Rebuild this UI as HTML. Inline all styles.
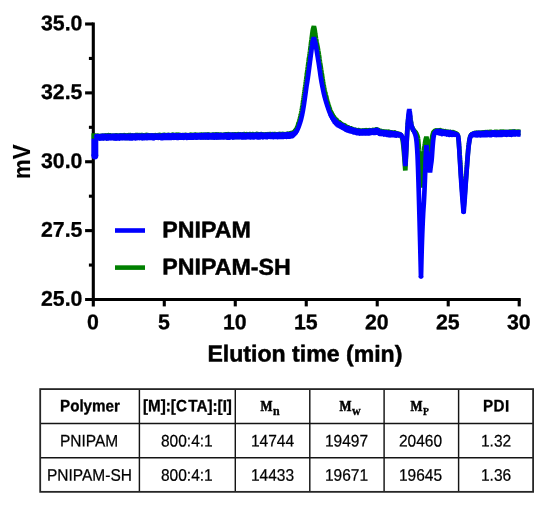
<!DOCTYPE html>
<html lang="en"><head><meta charset="utf-8"><title>GPC traces of PNIPAM and PNIPAM-SH</title>
<style>
html,body{margin:0;padding:0;background:#fff;}
svg,table{will-change:transform;}
body{width:550px;height:508px;position:relative;overflow:hidden;}
.t{position:absolute;left:40.20px;top:389.10px;width:492.90px;border-collapse:collapse;border-spacing:0;table-layout:fixed;
   font-family:'Liberation Sans', sans-serif;font-size:15.5px;color:#000;}
.t th,.t td{border:0;padding:0;text-align:center;vertical-align:middle;white-space:nowrap;
   line-height:1;overflow:visible;}
.t th{font-weight:bold;font-size:15.2px;-webkit-text-stroke:0.3px #000;}
.t th>span.h,.t td>span{display:inline-block;transform-origin:50% 55%;position:relative;}
.t th>span.h{transform:translateY(-1.0px) rotate(0.03deg) scaleY(1.08);}
.t tr.r2 td>span{transform:translateY(0.2px) rotate(0.03deg) scaleY(1.08);}
.t tr.r3 td>span{transform:translateY(0.35px) rotate(0.03deg) scaleY(1.08);}
.t td{font-weight:normal;-webkit-text-stroke:0.22px #000;}
.mm{font-family:'Liberation Serif', serif;font-weight:bold;display:inline-block;position:relative;top:1.0px;-webkit-text-stroke:0.35px #000;}
.mm .M{font-size:15.3px;display:inline-block;position:relative;top:-1.3px;transform:scaleX(0.83);transform-origin:right center;-webkit-text-stroke:0.6px #000;}
.mm .s{display:inline-block;position:relative;top:2.4px;transform:scaleX(0.92);transform-origin:left center;margin-left:0.7px;}
</style></head>
<body>
<svg width="550" height="380" viewBox="0 0 550 380" style="position:absolute;left:0;top:0;display:block">
<g stroke="#000" stroke-width="3.1" fill="none" stroke-linecap="butt">
<path d="M93.3,22.5 V306.4"/>
<path d="M85.1,299.5 H520.7"/>
<path d="M85.1,24.00 H93.3"/>
<path d="M85.1,92.88 H93.3"/>
<path d="M85.1,161.75 H93.3"/>
<path d="M85.1,230.62 H93.3"/>
<path d="M88.9,58.44 H93.3"/>
<path d="M88.9,127.31 H93.3"/>
<path d="M88.9,196.19 H93.3"/>
<path d="M88.9,265.06 H93.3"/>
<path d="M164.28,299.5 V306.4"/>
<path d="M235.27,299.5 V306.4"/>
<path d="M306.25,299.5 V306.4"/>
<path d="M377.23,299.5 V306.4"/>
<path d="M448.22,299.5 V306.4"/>
<path d="M519.20,299.5 V306.4"/>
</g>
<g font-family="'Liberation Sans', sans-serif" font-weight="bold" font-size="21.3px" fill="#000" stroke="#000" stroke-width="0.3" stroke-linejoin="round">
<text transform="translate(82.4,30.15) rotate(0.03)" text-anchor="end">35.0</text>
<text transform="translate(82.4,99.03) rotate(0.03)" text-anchor="end">32.5</text>
<text transform="translate(82.4,167.90) rotate(0.03)" text-anchor="end">30.0</text>
<text transform="translate(82.4,236.78) rotate(0.03)" text-anchor="end">27.5</text>
<text transform="translate(82.4,305.65) rotate(0.03)" text-anchor="end">25.0</text>
<text transform="translate(92.90,329.2) rotate(0.03)" text-anchor="middle">0</text>
<text transform="translate(163.88,329.2) rotate(0.03)" text-anchor="middle">5</text>
<text transform="translate(234.87,329.2) rotate(0.03)" text-anchor="middle">10</text>
<text transform="translate(305.85,329.2) rotate(0.03)" text-anchor="middle">15</text>
<text transform="translate(376.83,329.2) rotate(0.03)" text-anchor="middle">20</text>
<text transform="translate(447.82,329.2) rotate(0.03)" text-anchor="middle">25</text>
<text transform="translate(518.80,329.2) rotate(0.03)" text-anchor="middle">30</text>
</g>
<text transform="translate(304.9,361.6) rotate(0.03)" text-anchor="middle" font-family="'Liberation Sans', sans-serif" font-weight="bold" font-size="23.1px" fill="#000" stroke="#000" stroke-width="0.5" stroke-linejoin="round">Elution time (min)</text>
<text transform="translate(29.9,161.7) rotate(-90) scale(1,1.07)" text-anchor="middle" font-family="'Liberation Sans', sans-serif" font-weight="bold" font-size="22.2px" fill="#000" stroke="#000" stroke-width="0.1" stroke-linejoin="round">mV</text>
<path d="M94.60,136.79 L95.31,136.79 L96.02,136.78 L96.72,136.77 L97.43,136.77 L98.14,136.76 L98.85,136.76 L99.56,136.75 L100.27,136.74 L100.97,136.74 L101.68,136.73 L102.39,136.73 L103.10,136.72 L103.81,136.71 L104.52,136.71 L105.22,136.70 L105.93,136.70 L106.64,136.69 L107.35,136.68 L108.06,136.68 L108.76,136.67 L109.47,136.67 L110.18,136.66 L110.89,136.66 L111.60,136.65 L112.31,136.64 L113.01,136.64 L113.72,136.63 L114.43,136.63 L115.14,136.62 L115.85,136.61 L116.56,136.61 L117.26,136.60 L117.97,136.60 L118.68,136.59 L119.39,136.58 L120.10,136.58 L120.80,136.57 L121.51,136.57 L122.22,136.56 L122.93,136.55 L123.64,136.55 L124.35,136.54 L125.05,136.54 L125.76,136.53 L126.46,136.52 L127.16,136.52 L127.87,136.51 L128.57,136.51 L129.27,136.50 L129.97,136.49 L130.67,136.49 L131.37,136.48 L132.07,136.48 L132.77,136.47 L133.47,136.46 L134.17,136.46 L134.88,136.45 L135.58,136.45 L136.28,136.44 L136.98,136.43 L137.68,136.43 L138.38,136.42 L139.08,136.42 L139.78,136.41 L140.48,136.41 L141.18,136.40 L141.88,136.39 L142.59,136.39 L143.29,136.38 L143.99,136.38 L144.70,136.37 L145.41,136.36 L146.12,136.36 L146.84,136.35 L147.55,136.35 L148.26,136.34 L148.97,136.33 L149.69,136.33 L150.40,136.32 L151.11,136.32 L151.82,136.31 L152.54,136.30 L153.25,136.30 L153.96,136.29 L154.68,136.28 L155.39,136.28 L156.10,136.27 L156.81,136.27 L157.53,136.26 L158.24,136.25 L158.95,136.25 L159.66,136.24 L160.38,136.24 L161.10,136.23 L161.83,136.22 L162.55,136.22 L163.27,136.21 L163.99,136.21 L164.71,136.20 L165.43,136.19 L166.15,136.19 L166.87,136.18 L167.60,136.18 L168.32,136.17 L169.04,136.16 L169.76,136.16 L170.48,136.15 L171.20,136.14 L171.92,136.14 L172.64,136.13 L173.37,136.13 L174.09,136.12 L174.81,136.11 L175.53,136.11 L176.25,136.10 L176.95,136.10 L177.65,136.09 L178.35,136.08 L179.05,136.08 L179.75,136.07 L180.45,136.07 L181.15,136.06 L181.85,136.05 L182.55,136.05 L183.25,136.04 L183.95,136.04 L184.65,136.03 L185.35,136.02 L186.05,136.02 L186.75,136.01 L187.45,136.01 L188.15,136.00 L188.85,135.99 L189.55,135.99 L190.25,135.98 L190.95,135.98 L191.65,135.97 L192.35,135.97 L193.05,135.96 L193.75,135.95 L194.47,135.95 L195.20,135.94 L195.92,135.94 L196.65,135.93 L197.37,135.92 L198.09,135.92 L198.82,135.91 L199.54,135.90 L200.27,135.90 L200.99,135.89 L201.71,135.89 L202.44,135.88 L203.16,135.87 L203.89,135.87 L204.61,135.86 L205.33,135.86 L206.06,135.85 L206.78,135.84 L207.51,135.84 L208.23,135.83 L208.95,135.83 L209.68,135.82 L210.40,135.81 L211.12,135.81 L211.84,135.80 L212.56,135.80 L213.28,135.79 L214.00,135.78 L214.72,135.78 L215.44,135.77 L216.16,135.77 L216.88,135.76 L217.59,135.76 L218.31,135.75 L219.03,135.74 L219.75,135.74 L220.47,135.73 L221.19,135.73 L221.91,135.72 L222.62,135.71 L223.34,135.71 L224.06,135.70 L224.78,135.70 L225.50,135.69 L226.22,135.69 L226.94,135.68 L227.66,135.67 L228.38,135.67 L229.09,135.66 L229.80,135.66 L230.52,135.65 L231.23,135.65 L231.94,135.64 L232.66,135.63 L233.37,135.63 L234.08,135.62 L234.80,135.62 L235.51,135.61 L236.22,135.61 L236.94,135.60 L237.65,135.59 L238.36,135.59 L239.08,135.58 L239.79,135.58 L240.51,135.57 L241.22,135.57 L241.93,135.56 L242.65,135.55 L243.36,135.55 L244.07,135.54 L244.79,135.54 L245.50,135.53 L246.21,135.53 L246.92,135.52 L247.62,135.51 L248.33,135.51 L249.04,135.50 L249.75,135.50 L250.46,135.49 L251.17,135.49 L251.88,135.48 L252.58,135.48 L253.29,135.47 L254.00,135.46 L254.71,135.46 L255.42,135.45 L256.12,135.45 L256.83,135.44 L257.54,135.44 L258.25,135.43 L258.96,135.43 L259.67,135.42 L260.38,135.42 L261.08,135.41 L261.79,135.40 L262.50,135.40 L263.22,135.39 L263.94,135.38 L264.66,135.38 L265.38,135.37 L266.10,135.36 L266.82,135.35 L267.54,135.35 L268.26,135.34 L268.98,135.33 L269.69,135.32 L270.41,135.32 L271.13,135.31 L271.85,135.30 L272.57,135.29 L273.29,135.28 L274.01,135.28 L274.73,135.27 L275.45,135.26 L276.19,135.25 L276.93,135.24 L277.68,135.23 L278.42,135.21 L279.16,135.20 L279.90,135.19 L280.64,135.18 L281.38,135.17 L282.12,135.16 L282.87,135.14 L283.61,135.13 L284.35,135.12 L285.16,135.10 L285.97,135.07 L286.78,135.05 L287.58,135.02 L288.39,135.00 L289.20,134.97 L290.00,134.82 L290.74,134.62 L291.43,134.38 L292.06,134.07 L292.64,133.72 L293.21,133.29 L293.77,132.76 L294.33,132.15 L294.88,131.45 L295.41,130.68 L295.92,129.83 L296.41,128.90 L296.89,127.90 L297.15,127.25 L297.41,126.60 L297.70,125.80 L297.99,125.00 L298.30,124.05 L298.61,123.10 L298.84,122.37 L299.06,121.63 L299.29,120.90 L299.50,120.13 L299.71,119.37 L299.92,118.60 L300.11,117.80 L300.31,117.00 L300.51,116.20 L300.69,115.37 L300.87,114.53 L301.05,113.70 L301.22,112.83 L301.38,111.97 L301.55,111.10 L301.68,110.39 L301.80,109.68 L301.93,108.97 L302.05,108.26 L302.18,107.49 L302.30,106.73 L302.43,105.96 L302.55,105.19 L302.68,104.36 L302.80,103.53 L302.93,102.70 L303.05,101.88 L303.15,101.17 L303.25,100.45 L303.35,99.75 L303.45,99.03 L303.55,98.32 L303.67,97.50 L303.78,96.68 L303.90,95.86 L304.01,95.04 L304.12,94.28 L304.23,93.53 L304.33,92.77 L304.44,92.01 L304.57,91.09 L304.70,90.17 L304.82,89.25 L304.94,88.42 L305.06,87.58 L305.18,86.75 L305.29,85.92 L305.41,85.08 L305.52,84.25 L305.64,83.42 L305.75,82.58 L305.87,81.75 L305.98,80.92 L306.09,80.08 L306.21,79.25 L306.32,78.42 L306.43,77.58 L306.54,76.75 L306.66,75.90 L306.77,75.04 L306.89,74.19 L307.00,73.31 L307.12,72.44 L307.24,71.56 L307.36,70.67 L307.48,69.77 L307.59,68.88 L307.71,67.96 L307.84,67.04 L307.96,66.12 L308.08,65.22 L308.20,64.31 L308.32,63.41 L308.44,62.51 L308.57,61.61 L308.69,60.72 L308.81,59.83 L308.94,58.95 L309.06,58.06 L309.19,57.19 L309.31,56.31 L309.44,55.44 L309.54,54.72 L309.64,54.00 L309.74,53.28 L309.83,52.56 L309.94,51.78 L310.04,51.00 L310.15,50.22 L310.25,49.44 L310.36,48.59 L310.47,47.75 L310.58,46.91 L310.69,46.06 L310.79,45.34 L310.88,44.61 L310.97,43.89 L311.06,43.16 L311.16,42.44 L311.26,41.64 L311.36,40.84 L311.46,40.04 L311.57,39.25 L311.68,38.33 L311.80,37.41 L311.92,36.49 L312.02,35.72 L312.12,34.94 L312.23,34.17 L312.35,33.22 L312.48,32.28 L312.60,31.47 L312.73,30.67 L312.98,29.33 L313.31,28.07 L313.60,27.19 L313.90,26.30 L314.11,27.19 L314.32,28.07 L314.57,29.33 L314.79,30.67 L314.91,31.47 L315.02,32.28 L315.15,33.22 L315.27,34.17 L315.40,34.94 L315.52,35.72 L315.64,36.49 L315.80,37.41 L315.95,38.33 L316.11,39.25 L316.26,40.04 L316.41,40.84 L316.55,41.64 L316.70,42.44 L316.84,43.16 L316.98,43.89 L317.12,44.61 L317.26,45.34 L317.40,46.06 L317.53,46.77 L317.66,47.49 L317.79,48.20 L317.92,48.91 L318.05,49.62 L318.17,50.33 L318.28,51.02 L318.40,51.73 L318.52,52.42 L318.64,53.12 L318.78,53.98 L318.91,54.84 L319.05,55.70 L319.18,56.56 L319.30,57.41 L319.42,58.25 L319.55,59.09 L319.67,59.94 L319.79,60.73 L319.90,61.52 L320.02,62.30 L320.13,63.09 L320.25,63.83 L320.36,64.56 L320.47,65.30 L320.58,66.03 L320.72,66.94 L320.86,67.84 L321.00,68.75 L321.13,69.58 L321.27,70.42 L321.40,71.25 L321.53,72.06 L321.66,72.88 L321.79,73.69 L321.91,74.48 L322.04,75.27 L322.16,76.06 L322.28,76.83 L322.40,77.60 L322.52,78.38 L322.64,79.12 L322.76,79.88 L322.88,80.62 L323.00,81.39 L323.13,82.15 L323.26,82.91 L323.39,83.68 L323.53,84.45 L323.67,85.22 L323.82,86.00 L323.96,86.78 L324.11,87.56 L324.27,88.35 L324.43,89.15 L324.59,89.94 L324.76,90.74 L324.94,91.54 L325.11,92.34 L325.30,93.16 L325.50,93.97 L325.69,94.78 L325.90,95.60 L326.10,96.43 L326.31,97.25 L326.54,98.08 L326.76,98.92 L326.99,99.75 L327.23,100.59 L327.47,101.42 L327.71,102.26 L327.96,103.09 L328.21,103.93 L328.47,104.77 L328.74,105.61 L329.01,106.45 L329.27,107.29 L329.56,108.13 L329.84,108.97 L330.12,109.81 L330.43,110.60 L330.74,111.38 L331.05,112.16 L331.38,112.89 L331.72,113.61 L332.05,114.34 L332.41,115.00 L332.77,115.67 L333.12,116.34 L333.51,116.95 L333.89,117.55 L334.27,118.16 L334.86,118.97 L335.45,119.78 L336.05,120.48 L336.65,121.18 L337.26,121.77 L337.88,122.36 L338.50,122.85 L339.12,123.34 L339.79,123.81 L340.46,124.28 L341.18,124.74 L341.89,125.19 L342.64,125.63 L343.40,126.07 L344.20,126.50 L345.00,126.92 L345.77,127.31 L346.55,127.70 L347.30,128.05 L348.05,128.40 L348.77,128.71 L349.50,129.03 L350.20,129.30 L350.90,129.58 L351.62,129.82 L352.33,130.06 L353.06,130.28 L353.79,130.49 L354.54,130.67 L355.29,130.85 L356.05,131.00 L356.81,131.15 L357.58,131.26 L358.36,131.37 L359.14,131.44 L359.92,131.51 L360.71,131.53 L361.50,131.56 L362.30,131.55 L363.10,131.54 L363.90,131.52 L364.69,131.51 L365.49,131.49 L366.28,131.47 L367.07,131.45 L367.86,131.43 L368.65,131.40 L369.44,131.38 L370.14,131.34 L370.85,131.31 L372.10,131.24 L373.19,131.15 L374.11,131.05 L374.89,130.93 L375.53,130.79 L376.03,130.64 L376.38,130.46 L376.72,130.38 L377.07,130.39 L377.42,130.50 L377.78,130.70 L378.11,130.91 L378.44,131.14 L378.75,131.38 L379.05,131.62 L379.59,131.84 L380.36,132.03 L381.38,132.19 L382.62,132.31 L383.96,132.46 L384.68,132.55 L385.39,132.64 L386.14,132.74 L386.90,132.84 L387.70,132.95 L388.50,133.06 L389.30,133.17 L390.10,133.27 L390.90,133.36 L391.70,133.46 L392.50,133.54 L393.30,133.62 L394.10,133.70 L394.90,133.77 L396.29,133.92 L397.46,134.08 L398.61,134.26 L399.46,134.43 L400.30,134.60 L401.09,135.67 L401.51,136.43 L401.84,137.22 L402.15,138.19 L402.45,139.31 L402.60,140.14 L402.75,140.97 L402.85,141.70 L402.95,142.43 L403.05,143.16 L403.15,144.06 L403.25,144.97 L403.35,145.88 L403.43,146.69 L403.50,147.50 L403.57,148.31 L403.65,149.12 L403.73,149.99 L403.80,150.86 L403.88,151.73 L403.95,152.59 L404.01,153.33 L404.07,154.07 L404.13,154.81 L404.19,155.54 L404.25,156.28 L404.30,156.99 L404.36,157.69 L404.41,158.40 L404.46,159.10 L404.52,159.81 L404.57,160.51 L404.62,161.22 L404.68,161.93 L404.73,162.65 L404.78,163.36 L404.83,164.07 L404.88,164.79 L404.94,165.50 L404.99,166.22 L405.04,166.93 L405.09,167.64 L405.14,168.36 L405.20,169.07 L405.25,169.79 L405.30,170.50 L405.33,169.79 L405.37,169.07 L405.40,168.36 L405.44,167.64 L405.47,166.93 L405.51,166.22 L405.54,165.50 L405.58,164.79 L405.61,164.07 L405.65,163.36 L405.68,162.65 L405.72,161.93 L405.75,161.22 L405.79,160.46 L405.82,159.70 L405.86,158.94 L405.90,158.18 L405.93,157.42 L405.97,156.67 L406.01,155.91 L406.04,155.17 L406.08,154.43 L406.11,153.69 L406.15,152.95 L406.18,152.21 L406.22,151.47 L406.26,150.70 L406.29,149.94 L406.33,149.17 L406.36,148.41 L406.40,147.64 L406.44,146.88 L406.48,146.08 L406.51,145.29 L406.55,144.50 L406.59,143.71 L406.62,142.92 L406.66,142.12 L406.70,141.41 L406.74,140.69 L406.77,139.97 L406.81,139.25 L406.84,138.53 L406.88,137.81 L406.92,137.04 L406.97,136.26 L407.01,135.49 L407.05,134.71 L407.09,133.94 L407.15,133.08 L407.20,132.22 L407.25,131.36 L407.30,130.50 L407.35,129.75 L407.40,129.00 L407.45,128.25 L407.50,127.50 L407.57,126.60 L407.63,125.71 L407.70,124.81 L407.77,124.02 L407.83,123.23 L407.90,122.44 L408.00,121.41 L408.10,120.38 L408.20,119.50 L408.30,118.62 L408.40,117.91 L408.49,117.19 L408.68,116.06 L408.91,115.12 L409.30,114.00 L409.69,115.12 L409.91,115.88 L410.07,116.62 L410.22,117.50 L410.38,118.50 L410.55,119.62 L410.75,120.88 L410.98,122.25 L411.10,123.00 L411.23,123.75 L411.48,125.06 L411.74,126.19 L412.01,127.12 L412.29,127.88 L412.56,128.53 L412.82,129.09 L413.07,129.56 L413.32,129.94 L413.62,130.34 L413.97,130.78 L414.37,131.25 L414.83,131.75 L415.27,132.28 L415.71,132.84 L416.14,133.44 L416.56,134.06 L416.96,134.84 L417.32,135.78 L417.65,136.88 L417.95,138.12 L418.05,138.96 L418.16,139.79 L418.26,140.62 L418.33,141.38 L418.39,142.12 L418.46,142.88 L418.52,143.62 L418.59,144.38 L418.64,145.09 L418.68,145.80 L418.73,146.52 L418.78,147.23 L418.83,147.95 L418.88,148.66 L418.92,149.38 L418.97,150.16 L419.01,150.94 L419.06,151.72 L419.10,152.50 L419.14,153.28 L419.19,154.06 L419.23,154.84 L419.28,155.62 L419.32,156.39 L419.36,157.15 L419.40,157.91 L419.45,158.68 L419.49,159.44 L419.53,160.20 L419.58,160.96 L419.62,161.72 L419.66,162.47 L419.70,163.21 L419.75,163.96 L419.79,164.70 L419.83,165.44 L419.87,166.19 L419.91,166.93 L419.96,167.68 L420.00,168.40 L420.04,169.12 L420.08,169.84 L420.12,170.56 L420.16,171.28 L420.20,172.00 L420.25,172.72 L420.29,173.45 L420.33,174.17 L420.37,174.89 L420.41,175.59 L420.45,176.30 L420.49,177.01 L420.53,177.71 L420.57,178.42 L420.61,179.12 L420.65,179.83 L420.69,180.54 L420.73,181.24 L420.77,181.95 L420.82,182.66 L420.86,183.36 L420.90,184.07 L420.94,184.78 L420.98,185.48 L421.02,186.19 L421.06,186.89 L421.10,187.60 L421.14,186.89 L421.19,186.19 L421.23,185.48 L421.27,184.78 L421.32,184.07 L421.36,183.36 L421.41,182.66 L421.45,181.95 L421.49,181.24 L421.54,180.54 L421.58,179.83 L421.62,179.12 L421.67,178.42 L421.71,177.71 L421.76,177.01 L421.80,176.30 L421.84,175.59 L421.89,174.89 L421.94,174.16 L421.99,173.42 L422.04,172.69 L422.08,171.96 L422.13,171.23 L422.18,170.50 L422.23,169.76 L422.28,169.03 L422.33,168.30 L422.39,167.52 L422.45,166.73 L422.51,165.95 L422.57,165.17 L422.63,164.38 L422.69,163.60 L422.76,162.90 L422.82,162.19 L422.88,161.49 L422.94,160.78 L423.00,160.08 L423.06,159.38 L423.14,158.62 L423.21,157.88 L423.29,157.12 L423.36,156.38 L423.44,155.62 L423.53,154.78 L423.62,153.94 L423.71,153.09 L423.80,152.25 L423.89,151.50 L423.98,150.75 L424.06,150.00 L424.15,149.25 L424.26,148.38 L424.37,147.50 L424.49,146.62 L424.60,145.88 L424.70,145.12 L424.81,144.38 L424.97,143.40 L425.12,142.43 L425.27,141.60 L425.42,140.77 L425.59,139.97 L425.76,139.16 L425.96,138.38 L426.15,137.59 L426.35,136.80 L426.53,137.59 L426.71,138.38 L426.88,139.16 L427.17,140.52 L427.37,141.68 L427.56,142.88 L427.74,144.12 L427.83,144.91 L427.92,145.69 L428.01,146.62 L428.11,147.56 L428.17,148.29 L428.24,149.02 L428.30,149.75 L428.37,150.58 L428.43,151.42 L428.50,152.25 L428.57,153.08 L428.63,153.92 L428.70,154.75 L428.77,155.58 L428.83,156.42 L428.90,157.25 L428.96,158.03 L429.02,158.81 L429.09,159.59 L429.15,160.38 L429.21,161.08 L429.26,161.78 L429.32,162.48 L429.38,163.19 L429.43,163.89 L429.49,164.59 L429.54,165.30 L429.60,166.00 L429.68,165.16 L429.77,164.31 L429.85,163.47 L429.94,162.62 L430.00,161.88 L430.07,161.12 L430.14,160.38 L430.20,159.62 L430.25,158.88 L430.31,158.12 L430.37,157.25 L430.44,156.38 L430.50,155.50 L430.55,154.75 L430.60,154.00 L430.65,153.25 L430.70,152.50 L430.75,151.77 L430.81,151.03 L430.86,150.30 L430.91,149.56 L430.97,148.84 L431.02,148.12 L431.08,147.41 L431.14,146.69 L431.20,145.98 L431.26,145.28 L431.32,144.58 L431.38,143.88 L431.46,142.96 L431.54,142.04 L431.62,141.12 L431.72,140.33 L431.81,139.54 L431.90,138.75 L432.05,137.75 L432.20,136.75 L432.36,135.94 L432.53,135.12 L432.88,133.88 L433.27,132.87 L433.71,132.11 L434.19,131.59 L434.71,131.31 L435.39,131.15 L436.21,131.10 L437.19,131.16 L438.31,131.34 L439.47,131.51 L440.66,131.69 L441.88,131.86 L443.12,132.04 L444.38,132.21 L445.62,132.37 L446.88,132.53 L448.12,132.68 L449.38,132.82 L450.62,132.96 L451.88,133.09 L453.12,133.21 L454.19,133.34 L455.08,133.46 L455.92,133.62 L457.10,133.90 L457.77,135.08 L457.96,135.77 L458.14,136.45 L458.29,137.43 L458.43,138.40 L458.53,139.29 L458.62,140.18 L458.71,141.06 L458.78,141.91 L458.85,142.75 L458.92,143.59 L458.99,144.44 L459.04,145.17 L459.09,145.90 L459.15,146.62 L459.20,147.35 L459.25,148.08 L459.31,148.81 L459.36,149.58 L459.41,150.35 L459.46,151.12 L459.51,151.88 L459.57,152.65 L459.62,153.42 L459.67,154.19 L459.71,154.90 L459.76,155.60 L459.80,156.31 L459.85,157.02 L459.89,157.73 L459.94,158.44 L459.98,159.15 L460.03,159.85 L460.07,160.56 L460.12,161.30 L460.16,162.04 L460.21,162.78 L460.25,163.51 L460.30,164.25 L460.34,164.99 L460.39,165.72 L460.44,166.46 L460.48,167.20 L460.52,167.94 L460.57,168.67 L460.62,169.41 L460.67,170.14 L460.72,170.88 L460.77,171.61 L460.82,172.34 L460.87,173.08 L460.91,173.81 L460.96,174.55 L461.01,175.28 L461.06,176.01 L461.12,176.74 L461.17,177.47 L461.22,178.21 L461.27,178.94 L461.33,179.67 L461.38,180.40 L461.43,181.13 L461.48,181.86 L461.54,182.59 L461.59,183.29 L461.65,183.99 L461.70,184.69 L461.76,185.39 L461.81,186.09 L461.87,186.79 L461.92,187.49 L461.98,188.19 L462.03,188.89 L462.09,189.59 L462.14,190.29 L462.20,190.99 L462.25,191.69 L462.31,192.40 L462.37,193.11 L462.43,193.82 L462.48,194.52 L462.54,195.23 L462.60,195.94 L462.66,196.65 L462.72,197.36 L462.78,198.07 L462.84,198.78 L462.90,199.49 L462.95,200.20 L463.01,200.91 L463.07,201.62 L463.13,202.33 L463.19,203.04 L463.25,203.74 L463.31,204.45 L463.37,205.16 L463.42,205.87 L463.48,206.58 L463.54,207.29 L463.60,208.00 L463.66,207.29 L463.72,206.58 L463.78,205.87 L463.83,205.16 L463.89,204.45 L463.95,203.74 L464.01,203.04 L464.07,202.33 L464.13,201.62 L464.19,200.91 L464.25,200.20 L464.30,199.49 L464.36,198.78 L464.42,198.07 L464.48,197.36 L464.54,196.65 L464.60,195.94 L464.66,195.23 L464.72,194.52 L464.77,193.82 L464.83,193.11 L464.89,192.40 L464.95,191.69 L465.01,190.99 L465.06,190.29 L465.12,189.59 L465.17,188.89 L465.23,188.19 L465.29,187.49 L465.34,186.79 L465.40,186.09 L465.46,185.39 L465.51,184.69 L465.57,183.99 L465.62,183.29 L465.68,182.59 L465.74,181.86 L465.79,181.13 L465.85,180.40 L465.91,179.67 L465.96,178.94 L466.02,178.21 L466.07,177.47 L466.13,176.74 L466.19,176.01 L466.24,175.28 L466.30,174.55 L466.35,173.81 L466.41,173.08 L466.46,172.34 L466.52,171.61 L466.57,170.88 L466.62,170.14 L466.68,169.41 L466.73,168.67 L466.79,167.94 L466.84,167.20 L466.89,166.46 L466.94,165.72 L467.00,164.99 L467.05,164.25 L467.10,163.51 L467.15,162.78 L467.21,162.04 L467.26,161.30 L467.31,160.56 L467.37,159.79 L467.43,159.03 L467.49,158.26 L467.55,157.49 L467.61,156.72 L467.67,155.95 L467.73,155.19 L467.79,154.42 L467.85,153.72 L467.91,153.02 L467.97,152.31 L468.03,151.61 L468.09,150.91 L468.15,150.21 L468.21,149.51 L468.29,148.77 L468.36,148.03 L468.44,147.30 L468.51,146.56 L468.59,145.82 L468.70,145.01 L468.80,144.19 L468.91,143.38 L469.07,142.34 L469.22,141.31 L469.36,140.46 L469.51,139.62 L469.77,138.31 L470.02,137.39 L470.30,136.59 L470.60,135.93 L471.01,135.30 L471.80,134.40 L472.81,134.18 L473.82,133.95 L475.01,133.75 L476.04,133.65 L477.12,133.60 L478.28,133.60 L479.02,133.59 L479.76,133.58 L480.68,133.56 L481.59,133.54 L482.31,133.52 L483.03,133.51 L483.75,133.49 L484.58,133.46 L485.42,133.44 L486.25,133.41 L486.95,133.39 L487.66,133.37 L488.36,133.35 L489.06,133.33 L489.84,133.31 L490.62,133.29 L491.41,133.27 L492.19,133.24 L493.05,133.22 L493.91,133.20 L494.77,133.17 L495.62,133.15 L496.38,133.13 L497.12,133.11 L497.88,133.09 L498.62,133.07 L499.38,133.05 L500.12,133.03 L500.88,133.01 L501.62,132.99 L502.38,132.98 L503.12,132.96 L503.88,132.94 L504.62,132.92 L505.38,132.90 L506.12,132.89 L506.88,132.87 L507.66,132.85 L508.44,132.84 L509.22,132.82 L510.00,132.80 L510.78,132.79 L511.56,132.77 L512.27,132.75 L512.97,132.74 L513.67,132.73 L514.38,132.71 L515.08,132.70 L515.78,132.68 L516.48,132.67 L517.19,132.66 L517.89,132.64 L518.59,132.63 L519.30,132.61 L520.00,132.60" fill="none" stroke="#008000" stroke-width="4.70" stroke-linejoin="bevel" stroke-linecap="butt"/>
<path d="M94.60,136.79 L95.31,137.23 L96.02,135.61 L96.72,137.68 L97.43,135.60 L98.14,137.84 L98.85,135.86 L99.56,137.90 L100.27,135.86 L100.97,137.85 L101.68,135.83 L102.39,137.64 L103.10,135.61 L103.81,138.05 L104.52,135.78 L105.22,137.69 L105.93,135.47 L106.64,138.10 L107.35,135.49 L108.06,137.77 L108.76,135.25 L109.47,137.56 L110.18,135.30 L110.89,137.68 L111.60,135.70 L112.31,137.57 L113.01,135.60 L113.72,137.96 L114.43,135.66 L115.14,137.82 L115.85,135.38 L116.56,137.68 L117.26,135.42 L117.97,137.49 L118.68,135.69 L119.39,137.56 L120.10,135.32 L120.80,137.68 L121.51,135.52 L122.22,137.76 L122.93,135.43 L123.64,137.58 L124.35,135.22 L125.05,137.80 L125.76,135.53 L126.46,137.72 L127.16,135.35 L127.87,137.88 L128.57,135.22 L129.27,137.53 L129.97,135.07 L130.67,137.42 L131.37,135.38 L132.07,137.77 L132.77,135.52 L133.47,137.61 L134.17,135.57 L134.88,137.70 L135.58,135.14 L136.28,137.63 L136.98,135.07 L137.68,137.47 L138.38,135.16 L139.08,137.62 L139.78,135.22 L140.48,137.53 L141.18,135.05 L141.88,137.80 L142.59,135.25 L143.29,137.63 L143.99,135.48 L144.70,137.64 L145.41,135.13 L146.12,137.79 L146.84,135.02 L147.55,137.37 L148.26,135.25 L148.97,137.58 L149.69,135.45 L150.40,137.45 L151.11,135.36 L151.82,137.24 L152.54,135.41 L153.25,137.60 L153.96,135.35 L154.68,137.29 L155.39,135.19 L156.10,137.64 L156.81,135.36 L157.53,137.38 L158.24,135.08 L158.95,137.62 L159.66,134.91 L160.38,137.60 L161.10,135.21 L161.83,137.33 L162.55,135.15 L163.27,137.58 L163.99,134.79 L164.71,137.15 L165.43,135.23 L166.15,137.18 L166.87,135.18 L167.60,137.32 L168.32,134.97 L169.04,137.18 L169.76,135.29 L170.48,137.25 L171.20,135.07 L171.92,137.33 L172.64,134.72 L173.37,137.39 L174.09,134.96 L174.81,137.33 L175.53,134.86 L176.25,137.00 L176.95,134.72 L177.65,137.40 L178.35,134.72 L179.05,137.40 L179.75,134.98 L180.45,137.16 L181.15,135.14 L181.85,137.28 L182.55,135.15 L183.25,136.94 L183.95,135.05 L184.65,136.99 L185.35,134.97 L186.05,136.91 L186.75,135.15 L187.45,136.96 L188.15,135.08 L188.85,137.07 L189.55,135.11 L190.25,137.35 L190.95,134.76 L191.65,136.92 L192.35,134.96 L193.05,137.02 L193.75,134.88 L194.47,136.88 L195.20,134.59 L195.92,137.37 L196.65,134.80 L197.37,137.06 L198.09,135.01 L198.82,136.83 L199.54,134.85 L200.27,136.91 L200.99,134.55 L201.71,136.84 L202.44,135.01 L203.16,137.28 L203.89,134.70 L204.61,136.81 L205.33,134.68 L206.06,136.73 L206.78,134.68 L207.51,137.26 L208.23,134.47 L208.95,137.09 L209.68,134.81 L210.40,136.89 L211.12,134.85 L211.84,137.11 L212.56,134.63 L213.28,137.10 L214.00,134.73 L214.72,136.77 L215.44,134.44 L216.16,137.20 L216.88,134.41 L217.59,137.08 L218.31,134.42 L219.03,137.03 L219.75,134.75 L220.47,136.89 L221.19,134.66 L221.91,136.60 L222.62,134.84 L223.34,136.73 L224.06,134.69 L224.78,136.96 L225.50,134.28 L226.22,136.81 L226.94,134.28 L227.66,137.10 L228.38,134.26 L229.09,136.73 L229.80,134.67 L230.52,136.64 L231.23,134.67 L231.94,136.62 L232.66,134.41 L233.37,137.01 L234.08,134.28 L234.80,136.75 L235.51,134.37 L236.22,136.93 L236.94,134.69 L237.65,136.84 L238.36,134.20 L239.08,136.89 L239.79,134.28 L240.51,136.71 L241.22,134.60 L241.93,136.88 L242.65,134.50 L243.36,136.87 L244.07,134.12 L244.79,136.63 L245.50,134.44 L246.21,136.93 L246.92,134.24 L247.62,136.47 L248.33,134.57 L249.04,136.45 L249.75,134.12 L250.46,136.82 L251.17,134.54 L251.88,136.82 L252.58,134.05 L253.29,136.71 L254.00,134.40 L254.71,136.64 L255.42,134.52 L256.12,136.32 L256.83,134.02 L257.54,136.67 L258.25,134.27 L258.96,136.83 L259.67,134.31 L260.38,136.78 L261.08,134.07 L261.79,136.39 L262.50,134.39 L263.22,136.42 L263.94,134.38 L264.66,136.58 L265.38,134.36 L266.10,136.46 L266.82,134.42 L267.54,136.73 L268.26,134.27 L268.98,136.46 L269.69,134.12 L270.41,136.70 L271.13,134.20 L271.85,136.69 L272.57,134.14 L273.29,136.45 L274.01,134.11 L274.73,136.14 L275.45,134.15 L276.19,136.22 L276.93,134.37 L277.68,136.55 L278.42,134.25 L279.16,136.34 L279.90,133.91 L280.64,136.36 L281.38,134.12 L282.12,136.32 L282.87,133.96 L283.61,136.45 L284.35,134.20 L285.16,136.28 L285.97,134.07 L286.78,136.07 L287.58,133.72 L288.39,136.15 L289.20,133.79 L290.00,136.12 L290.74,133.24 L291.43,135.49 L292.06,133.02 L292.64,134.60 L293.21,132.55 L293.77,133.43 L294.33,131.68 L294.88,131.81 L295.41,130.45 L295.92,129.96 L296.41,128.90 M331.05,112.16 L331.38,112.79 L331.72,113.75 L332.05,114.10 L332.41,115.39 L332.77,115.21 L333.12,116.73 L333.51,116.49 L333.89,118.19 L334.27,117.58 L334.86,119.73 L335.45,118.98 L336.05,121.72 L336.65,119.86 L337.26,123.15 L337.88,121.41 L338.50,124.12 L339.12,122.10 L339.79,124.75 L340.46,122.91 L341.18,126.16 L341.89,124.20 L342.64,127.04 L343.40,124.98 L344.20,127.64 L345.00,125.49 L345.77,128.65 L346.55,126.74 L347.30,129.16 L348.05,127.24 L348.77,129.77 L349.50,128.05 L350.20,130.35 L350.90,128.30 L351.62,130.69 L352.33,128.88 L353.06,131.39 L353.79,129.61 L354.54,131.72 L355.29,129.63 L356.05,132.16 L356.81,130.25 L357.58,132.69 L358.36,130.05 L359.14,132.86 L359.92,130.58 L360.71,132.55 L361.50,130.68 L362.30,132.86 L363.10,130.52 L363.90,132.46 L364.69,130.40 L365.49,132.87 L366.28,130.14 L367.07,132.46 L367.86,130.48 L368.65,132.79 L369.44,130.18 L370.14,132.61 L370.85,130.40 L372.10,132.13 L373.19,129.89 L374.11,132.16 L374.89,130.03 L375.53,132.20 L376.03,129.41 L376.38,131.79 L376.72,129.47 L377.07,131.75 L377.42,129.60 L377.78,132.06 L378.11,129.79 L378.44,132.20 L378.75,130.19 L379.05,133.02 L379.59,130.83 L380.36,132.97 L381.38,131.02 L382.62,133.31 L383.96,131.54 L384.68,133.51 L385.39,131.75 L386.14,133.72 L386.90,131.80 L387.70,133.99 L388.50,131.76 L389.30,134.19 L390.10,132.12 L390.90,134.33 L391.70,132.39 L392.50,134.41 L393.30,132.62 L394.10,134.57 L394.90,132.49 L396.29,135.06 L397.46,133.37 L398.61,134.82 L399.46,133.97 L400.30,134.75 L401.09,135.67 M412.56,128.86 L412.82,128.75 L413.07,129.97 L413.32,129.61 L413.62,130.69 L413.97,130.40 L414.37,131.68 L414.83,131.43 L415.27,132.68 L415.71,132.46 L416.14,133.81 L416.56,133.73 M433.27,132.87 L433.71,132.03 L434.19,131.76 L434.71,131.05 L435.39,131.70 L436.21,130.51 L437.19,131.91 L438.31,130.43 L439.47,132.86 L440.66,130.32 L441.88,133.11 L443.12,131.01 L444.38,133.21 L445.62,131.34 L446.88,133.65 L448.12,131.72 L449.38,133.94 L450.62,131.94 L451.88,134.50 L453.12,132.08 L454.19,134.02 L455.08,133.06 L455.92,133.95 L457.10,133.90 M470.60,135.93 L471.01,135.23 L471.80,134.66 L472.81,133.67 L473.82,134.69 L475.01,132.89 L476.04,134.80 L477.12,132.73 L478.28,134.61 L479.02,132.68 L479.76,134.67 L480.68,132.68 L481.59,134.42 L482.31,132.49 L483.03,134.50 L483.75,132.29 L484.58,134.63 L485.42,132.14 L486.25,134.65 L486.95,132.12 L487.66,134.74 L488.36,132.27 L489.06,134.38 L489.84,131.88 L490.62,134.24 L491.41,131.99 L492.19,134.48 L493.05,132.33 L493.91,134.54 L494.77,131.80 L495.62,134.37 L496.38,131.85 L497.12,134.44 L497.88,132.15 L498.62,134.23 L499.38,131.90 L500.12,134.37 L500.88,131.69 L501.62,134.33 L502.38,131.78 L503.12,134.33 L503.88,131.68 L504.62,134.18 L505.38,131.91 L506.12,133.77 L506.88,131.93 L507.66,133.92 L508.44,131.91 L509.22,134.16 L510.00,131.62 L510.78,134.01 L511.56,131.55 L512.27,134.01 L512.97,131.60 L513.67,133.59 L514.38,131.39 L515.08,133.97 L515.78,131.71 L516.48,133.49 L517.19,131.96 L517.89,133.02 L518.59,132.27 L519.30,132.76 L520.00,132.60" fill="none" stroke="#008000" stroke-width="4.70" stroke-linejoin="round" stroke-linecap="butt"/>
<rect x="91.4" y="133.3" width="3.8" height="5.5" fill="#008000"/>
<rect x="517.2" y="129.4" width="3.3" height="6.2" fill="#008000"/>
<rect x="91.4" y="138.7" width="6.9" height="17.3" fill="#0000ff"/>
<rect x="517.2" y="129.9" width="3.3" height="6.9" fill="#0000ff"/>
<circle cx="94.85" cy="156" r="3.45" fill="#0000ff"/>
<path d="M95.00,137.29 L95.70,137.29 L96.41,137.28 L97.11,137.27 L97.81,137.27 L98.52,137.26 L99.22,137.26 L99.92,137.25 L100.62,137.24 L101.33,137.24 L102.03,137.23 L102.73,137.23 L103.44,137.22 L104.14,137.21 L104.84,137.21 L105.55,137.20 L106.25,137.20 L106.95,137.19 L107.66,137.18 L108.36,137.18 L109.06,137.17 L109.77,137.17 L110.47,137.16 L111.17,137.16 L111.88,137.15 L112.58,137.14 L113.28,137.14 L113.98,137.13 L114.69,137.13 L115.39,137.12 L116.09,137.11 L116.80,137.11 L117.50,137.10 L118.20,137.10 L118.91,137.09 L119.61,137.08 L120.31,137.08 L121.02,137.07 L121.72,137.07 L122.42,137.06 L123.12,137.05 L123.83,137.05 L124.53,137.04 L125.23,137.04 L125.94,137.03 L126.66,137.02 L127.39,137.02 L128.11,137.01 L128.84,137.00 L129.56,137.00 L130.29,136.99 L131.01,136.99 L131.74,136.98 L132.46,136.97 L133.19,136.97 L133.91,136.96 L134.64,136.96 L135.36,136.95 L136.09,136.94 L136.81,136.94 L137.54,136.93 L138.26,136.92 L138.99,136.92 L139.71,136.91 L140.44,136.91 L141.16,136.90 L141.89,136.89 L142.61,136.89 L143.34,136.88 L144.06,136.88 L144.77,136.87 L145.48,136.86 L146.19,136.86 L146.90,136.85 L147.61,136.85 L148.32,136.84 L149.03,136.83 L149.74,136.83 L150.45,136.82 L151.16,136.82 L151.88,136.81 L152.59,136.80 L153.30,136.80 L154.01,136.79 L154.72,136.78 L155.43,136.78 L156.14,136.77 L156.85,136.77 L157.56,136.76 L158.27,136.75 L158.98,136.75 L159.69,136.74 L160.41,136.74 L161.13,136.73 L161.85,136.72 L162.57,136.72 L163.29,136.71 L164.01,136.71 L164.73,136.70 L165.45,136.69 L166.17,136.69 L166.89,136.68 L167.61,136.68 L168.33,136.67 L169.05,136.66 L169.77,136.66 L170.49,136.65 L171.21,136.64 L171.93,136.64 L172.65,136.63 L173.37,136.63 L174.09,136.62 L174.81,136.61 L175.53,136.61 L176.25,136.60 L176.95,136.60 L177.65,136.59 L178.35,136.58 L179.05,136.58 L179.75,136.57 L180.45,136.57 L181.15,136.56 L181.85,136.55 L182.55,136.55 L183.25,136.54 L183.95,136.54 L184.65,136.53 L185.35,136.52 L186.05,136.52 L186.75,136.51 L187.45,136.51 L188.15,136.50 L188.85,136.49 L189.55,136.49 L190.25,136.48 L190.95,136.48 L191.65,136.47 L192.35,136.47 L193.05,136.46 L193.75,136.45 L194.48,136.45 L195.20,136.44 L195.93,136.44 L196.66,136.43 L197.38,136.42 L198.11,136.42 L198.83,136.41 L199.56,136.40 L200.29,136.40 L201.01,136.39 L201.74,136.39 L202.47,136.38 L203.19,136.37 L203.92,136.37 L204.64,136.36 L205.37,136.36 L206.10,136.35 L206.82,136.34 L207.55,136.34 L208.28,136.33 L209.00,136.33 L209.73,136.32 L210.45,136.31 L211.18,136.31 L211.90,136.30 L212.63,136.30 L213.35,136.29 L214.07,136.28 L214.80,136.28 L215.52,136.27 L216.25,136.27 L216.97,136.26 L217.69,136.26 L218.42,136.25 L219.14,136.24 L219.86,136.24 L220.59,136.23 L221.31,136.23 L222.03,136.22 L222.76,136.21 L223.48,136.21 L224.20,136.20 L224.93,136.20 L225.65,136.19 L226.37,136.19 L227.10,136.18 L227.82,136.17 L228.54,136.17 L229.26,136.16 L229.98,136.16 L230.71,136.15 L231.43,136.15 L232.15,136.14 L232.87,136.13 L233.59,136.13 L234.31,136.12 L235.03,136.12 L235.75,136.11 L236.47,136.11 L237.19,136.10 L237.91,136.09 L238.63,136.09 L239.35,136.08 L240.07,136.08 L240.79,136.07 L241.51,136.07 L242.23,136.06 L242.96,136.05 L243.68,136.05 L244.40,136.04 L245.12,136.04 L245.84,136.03 L246.56,136.03 L247.27,136.02 L247.99,136.01 L248.71,136.01 L249.43,136.00 L250.14,136.00 L250.86,135.99 L251.58,135.99 L252.30,135.98 L253.01,135.98 L253.73,135.97 L254.45,135.96 L255.17,135.96 L255.89,135.95 L256.60,135.95 L257.32,135.94 L258.04,135.94 L258.76,135.93 L259.47,135.93 L260.19,135.92 L260.91,135.92 L261.63,135.91 L262.34,135.90 L263.06,135.90 L263.79,135.89 L264.52,135.88 L265.25,135.88 L265.98,135.87 L266.71,135.86 L267.44,135.85 L268.16,135.85 L268.89,135.84 L269.62,135.83 L270.35,135.82 L271.08,135.82 L271.81,135.81 L272.54,135.80 L273.27,135.79 L273.99,135.78 L274.72,135.78 L275.45,135.77 L276.18,135.76 L276.93,135.75 L277.68,135.74 L278.43,135.73 L279.19,135.71 L279.94,135.70 L280.69,135.69 L281.44,135.68 L282.19,135.67 L282.94,135.66 L283.69,135.64 L284.44,135.63 L285.19,135.62 L285.89,135.60 L286.60,135.58 L287.30,135.56 L288.00,135.54 L288.70,135.52 L289.40,135.50 L290.10,135.47 L290.90,135.32 L291.64,135.13 L292.33,134.89 L292.96,134.61 L293.54,134.29 L294.11,133.88 L294.67,133.39 L295.22,132.83 L295.78,132.17 L296.31,131.45 L296.82,130.65 L297.31,129.78 L297.79,128.83 L298.31,127.59 L298.60,126.84 L298.89,126.08 L299.20,125.18 L299.51,124.29 L299.74,123.60 L299.96,122.90 L300.19,122.21 L300.40,121.49 L300.61,120.77 L300.82,120.05 L301.01,119.30 L301.21,118.55 L301.41,117.80 L301.59,117.02 L301.77,116.24 L301.95,115.46 L302.12,114.65 L302.28,113.85 L302.45,113.04 L302.62,112.15 L302.78,111.25 L302.95,110.36 L303.07,109.63 L303.20,108.90 L303.32,108.17 L303.45,107.44 L303.57,106.64 L303.70,105.85 L303.82,105.06 L303.95,104.26 L304.07,103.41 L304.20,102.55 L304.32,101.69 L304.45,100.84 L304.56,100.04 L304.68,99.25 L304.79,98.46 L304.91,97.66 L305.01,96.93 L305.11,96.20 L305.22,95.47 L305.32,94.74 L305.44,93.85 L305.56,92.95 L305.69,92.06 L305.80,91.25 L305.90,90.45 L306.01,89.64 L306.12,88.89 L306.23,88.13 L306.33,87.38 L306.44,86.69 L306.54,85.99 L306.64,85.29 L306.80,84.33 L306.95,83.38 L307.10,82.50 L307.25,81.62 L307.36,80.92 L307.47,80.21 L307.58,79.50 L307.70,78.67 L307.82,77.83 L307.94,77.00 L308.04,76.28 L308.14,75.56 L308.24,74.84 L308.34,74.12 L308.44,73.31 L308.55,72.50 L308.66,71.69 L308.76,70.88 L308.87,70.04 L308.98,69.20 L309.09,68.37 L309.20,67.53 L309.31,66.67 L309.42,65.81 L309.53,64.95 L309.64,64.09 L309.73,63.39 L309.82,62.68 L309.91,61.98 L310.00,61.27 L310.09,60.56 L310.19,59.84 L310.28,59.11 L310.37,58.39 L310.46,57.66 L310.56,56.94 L310.66,56.11 L310.77,55.28 L310.88,54.46 L310.98,53.63 L311.08,52.88 L311.18,52.13 L311.27,51.38 L311.37,50.63 L311.49,49.74 L311.60,48.85 L311.72,47.96 L311.82,47.17 L311.93,46.38 L312.03,45.59 L312.19,44.56 L312.34,43.53 L312.50,42.65 L312.66,41.77 L312.85,40.89 L313.05,40.02 L313.28,39.14 L313.52,38.27 L313.75,37.40 L314.04,38.27 L314.33,39.14 L314.62,40.02 L314.86,40.89 L315.11,41.77 L315.30,42.65 L315.49,43.53 L315.69,44.56 L315.88,45.59 L316.01,46.38 L316.14,47.17 L316.27,47.96 L316.41,48.85 L316.56,49.74 L316.71,50.63 L316.83,51.38 L316.95,52.13 L317.07,52.88 L317.19,53.63 L317.33,54.46 L317.46,55.28 L317.60,56.11 L317.73,56.94 L317.85,57.66 L317.97,58.39 L318.08,59.11 L318.20,59.84 L318.32,60.56 L318.43,61.27 L318.54,61.98 L318.65,62.68 L318.76,63.39 L318.87,64.09 L319.00,64.95 L319.13,65.81 L319.26,66.67 L319.39,67.53 L319.51,68.37 L319.63,69.20 L319.75,70.04 L319.88,70.88 L319.99,71.69 L320.10,72.50 L320.21,73.31 L320.33,74.12 L320.43,74.84 L320.53,75.56 L320.64,76.28 L320.74,77.00 L320.87,77.83 L321.00,78.67 L321.13,79.50 L321.25,80.21 L321.37,80.92 L321.49,81.62 L321.65,82.50 L321.81,83.38 L322.00,84.33 L322.18,85.29 L322.32,85.99 L322.46,86.69 L322.59,87.38 L322.75,88.13 L322.90,88.89 L323.05,89.64 L323.22,90.45 L323.38,91.25 L323.55,92.06 L323.73,92.87 L323.92,93.68 L324.10,94.48 L324.30,95.29 L324.50,96.09 L324.70,96.89 L324.92,97.70 L325.13,98.50 L325.35,99.30 L325.58,100.10 L325.82,100.90 L326.05,101.70 L326.30,102.50 L326.54,103.30 L326.79,104.11 L327.05,104.91 L327.30,105.71 L327.56,106.52 L327.83,107.32 L328.10,108.13 L328.38,108.94 L328.66,109.75 L328.94,110.55 L329.23,111.36 L329.53,112.11 L329.84,112.86 L330.15,113.61 L330.48,114.30 L330.82,115.00 L331.15,115.69 L331.51,116.32 L331.87,116.95 L332.23,117.59 L332.80,118.45 L333.38,119.31 L333.96,120.07 L334.54,120.83 L335.14,121.49 L335.73,122.14 L336.33,122.70 L336.94,123.25 L337.55,123.70 L338.16,124.15 L338.82,124.59 L339.48,125.03 L340.19,125.46 L340.89,125.89 L341.65,126.32 L342.40,126.74 L343.20,127.15 L344.00,127.56 L344.80,127.94 L345.59,128.32 L346.39,128.66 L347.18,129.01 L347.97,129.32 L348.76,129.62 L349.55,129.90 L350.34,130.18 L351.13,130.42 L351.92,130.67 L352.71,130.89 L353.51,131.11 L354.30,131.30 L355.10,131.49 L355.90,131.65 L356.70,131.81 L357.50,131.93 L358.30,132.05 L359.10,132.12 L359.90,132.20 L360.70,132.23 L361.50,132.26 L362.30,132.25 L363.10,132.24 L363.90,132.22 L364.69,132.21 L365.49,132.19 L366.28,132.17 L367.07,132.15 L367.86,132.12 L368.65,132.10 L369.44,132.07 L370.14,132.04 L370.85,132.01 L372.10,131.94 L373.19,131.85 L374.11,131.75 L374.89,131.64 L375.53,131.51 L376.03,131.38 L376.38,131.23 L376.72,131.16 L377.07,131.19 L377.42,131.30 L377.78,131.50 L378.11,131.71 L378.44,131.92 L378.75,132.14 L379.05,132.36 L379.59,132.57 L380.36,132.76 L381.38,132.92 L382.62,133.08 L383.96,133.23 L384.68,133.31 L385.39,133.39 L386.14,133.48 L386.90,133.56 L387.70,133.65 L388.50,133.74 L389.30,133.82 L390.10,133.90 L390.90,133.97 L391.70,134.05 L392.50,134.12 L393.30,134.19 L394.10,134.25 L394.90,134.31 L395.61,134.37 L396.33,134.43 L397.58,134.54 L398.88,134.67 L399.89,134.79 L400.90,134.90 L401.69,135.80 L402.11,136.48 L402.42,137.24 L402.71,138.19 L402.99,139.31 L403.12,140.08 L403.26,140.84 L403.39,141.81 L403.52,142.78 L403.60,143.56 L403.69,144.34 L403.77,145.12 L403.86,146.04 L403.94,146.96 L404.02,147.88 L404.09,148.61 L404.15,149.35 L404.21,150.08 L404.27,150.82 L404.33,151.60 L404.39,152.39 L404.45,153.17 L404.51,153.96 L404.55,154.66 L404.60,155.36 L404.65,156.06 L404.70,156.76 L404.75,157.47 L404.79,158.17 L404.84,158.89 L404.89,159.61 L404.93,160.33 L404.98,161.05 L405.02,161.77 L405.07,162.49 L405.12,163.22 L405.16,163.94 L405.21,164.66 L405.25,165.38 L405.30,166.10 L405.34,165.38 L405.38,164.66 L405.42,163.94 L405.46,163.22 L405.50,162.49 L405.55,161.77 L405.59,161.05 L405.63,160.33 L405.67,159.61 L405.71,158.89 L405.75,158.17 L405.79,157.40 L405.84,156.64 L405.88,155.88 L405.92,155.11 L405.96,154.35 L406.01,153.58 L406.05,152.80 L406.09,152.03 L406.13,151.25 L406.18,150.47 L406.22,149.69 L406.26,148.88 L406.31,148.07 L406.35,147.25 L406.39,146.44 L406.44,145.62 L406.48,144.92 L406.51,144.21 L406.55,143.50 L406.59,142.79 L406.62,142.08 L406.66,141.38 L406.71,140.59 L406.75,139.80 L406.79,139.01 L406.84,138.22 L406.88,137.44 L406.92,136.71 L406.97,135.99 L407.01,135.26 L407.05,134.54 L407.09,133.81 L407.15,132.98 L407.20,132.16 L407.25,131.33 L407.30,130.50 L407.35,129.75 L407.40,129.00 L407.45,128.25 L407.50,127.50 L407.55,126.80 L407.60,126.09 L407.65,125.39 L407.69,124.69 L407.76,123.81 L407.82,122.94 L407.88,122.06 L407.94,121.25 L408.00,120.44 L408.06,119.62 L408.12,118.88 L408.18,118.12 L408.24,117.38 L408.33,116.38 L408.42,115.38 L408.51,114.50 L408.61,113.62 L408.73,112.72 L408.85,111.81 L408.96,111.11 L409.07,110.41 L409.19,109.70 L409.30,109.00 L409.41,109.70 L409.52,110.41 L409.64,111.11 L409.75,111.81 L409.87,112.62 L409.98,113.42 L410.14,114.76 L410.29,116.14 L410.35,116.85 L410.41,117.56 L410.49,118.29 L410.57,119.03 L410.66,119.78 L410.76,120.53 L410.87,121.29 L410.98,122.06 L411.10,122.85 L411.23,123.64 L411.48,125.01 L411.74,126.17 L412.01,127.12 L412.29,127.88 L412.56,128.55 L412.82,129.15 L413.07,129.68 L413.32,130.12 L413.59,130.63 L413.88,131.19 L414.19,131.81 L414.51,132.49 L414.83,133.27 L415.14,134.18 L415.45,135.19 L415.75,136.31 L416.02,137.66 L416.15,138.44 L416.27,139.22 L416.39,140.11 L416.50,141.00 L416.60,142.00 L416.70,143.00 L416.77,143.79 L416.83,144.58 L416.90,145.38 L416.97,146.29 L417.03,147.21 L417.10,148.12 L417.15,148.91 L417.20,149.69 L417.25,150.47 L417.30,151.25 L417.34,151.95 L417.38,152.65 L417.42,153.35 L417.46,154.05 L417.50,154.75 L417.53,155.48 L417.56,156.20 L417.60,156.93 L417.63,157.66 L417.66,158.38 L417.69,159.11 L417.73,159.84 L417.75,160.58 L417.78,161.32 L417.81,162.06 L417.84,162.80 L417.86,163.55 L417.89,164.29 L417.92,165.03 L417.95,165.77 L417.98,166.51 L418.00,167.26 L418.03,168.01 L418.05,168.77 L418.08,169.52 L418.10,170.27 L418.13,171.02 L418.15,171.77 L418.18,172.52 L418.20,173.27 L418.23,174.02 L418.25,174.77 L418.27,175.48 L418.29,176.18 L418.31,176.89 L418.34,177.59 L418.36,178.29 L418.38,179.00 L418.40,179.70 L418.42,180.40 L418.44,181.11 L418.46,181.81 L418.49,182.51 L418.51,183.22 L418.53,183.92 L418.55,184.63 L418.57,185.36 L418.59,186.09 L418.61,186.82 L418.64,187.55 L418.66,188.28 L418.68,189.01 L418.70,189.74 L418.72,190.48 L418.74,191.21 L418.76,191.94 L418.79,192.67 L418.81,193.40 L418.83,194.13 L418.85,194.86 L418.87,195.57 L418.89,196.28 L418.91,196.99 L418.93,197.70 L418.95,198.40 L418.97,199.11 L418.99,199.82 L419.01,200.53 L419.03,201.24 L419.05,201.95 L419.07,202.65 L419.09,203.36 L419.11,204.07 L419.13,204.78 L419.15,205.49 L419.17,206.22 L419.19,206.96 L419.21,207.69 L419.23,208.42 L419.25,209.16 L419.27,209.89 L419.29,210.63 L419.31,211.36 L419.33,212.10 L419.35,212.83 L419.37,213.56 L419.39,214.30 L419.41,215.03 L419.43,215.77 L419.45,216.50 L419.47,217.21 L419.49,217.93 L419.51,218.64 L419.53,219.35 L419.54,220.06 L419.56,220.78 L419.58,221.49 L419.60,222.20 L419.62,222.91 L419.64,223.62 L419.66,224.34 L419.67,225.05 L419.69,225.76 L419.71,226.47 L419.73,227.19 L419.75,227.90 L419.77,228.61 L419.79,229.31 L419.80,230.02 L419.82,230.72 L419.84,231.43 L419.86,232.13 L419.88,232.84 L419.90,233.55 L419.91,234.25 L419.93,234.96 L419.95,235.66 L419.97,236.37 L419.99,237.08 L420.01,237.78 L420.02,238.49 L420.04,239.24 L420.06,239.99 L420.08,240.74 L420.10,241.50 L420.12,242.25 L420.14,243.00 L420.16,243.75 L420.18,244.50 L420.20,245.25 L420.22,246.01 L420.24,246.76 L420.26,247.51 L420.27,248.26 L420.29,249.00 L420.31,249.73 L420.33,250.46 L420.35,251.20 L420.37,251.93 L420.38,252.66 L420.40,253.40 L420.42,254.13 L420.44,254.86 L420.46,255.60 L420.48,256.33 L420.49,257.06 L420.51,257.80 L420.53,258.53 L420.55,259.26 L420.57,259.97 L420.58,260.67 L420.60,261.38 L420.62,262.08 L420.64,262.79 L420.65,263.49 L420.67,264.20 L420.69,264.90 L420.71,265.61 L420.72,266.32 L420.74,267.02 L420.76,267.73 L420.77,268.43 L420.79,269.14 L420.81,269.84 L420.83,270.55 L420.84,271.25 L420.86,271.96 L420.88,272.66 L420.90,273.37 L420.91,274.07 L420.93,274.78 L420.95,275.48 L420.97,276.19 L420.98,276.89 L421.00,277.60 L421.02,276.89 L421.03,276.19 L421.05,275.48 L421.07,274.78 L421.09,274.07 L421.10,273.37 L421.12,272.66 L421.14,271.96 L421.16,271.25 L421.17,270.55 L421.19,269.84 L421.21,269.14 L421.23,268.43 L421.24,267.73 L421.26,267.02 L421.28,266.32 L421.29,265.61 L421.31,264.90 L421.33,264.20 L421.35,263.49 L421.36,262.79 L421.38,262.08 L421.40,261.38 L421.42,260.67 L421.43,259.97 L421.45,259.26 L421.47,258.55 L421.49,257.83 L421.51,257.11 L421.53,256.40 L421.55,255.68 L421.57,254.97 L421.59,254.25 L421.61,253.53 L421.63,252.82 L421.65,252.10 L421.67,251.39 L421.69,250.67 L421.71,249.95 L421.73,249.24 L421.75,248.53 L421.77,247.81 L421.79,247.10 L421.82,246.39 L421.84,245.68 L421.86,244.97 L421.88,244.26 L421.91,243.55 L421.93,242.84 L421.95,242.12 L421.98,241.41 L422.00,240.65 L422.03,239.88 L422.06,239.11 L422.09,238.35 L422.11,237.58 L422.14,236.81 L422.17,236.05 L422.20,235.28 L422.22,234.52 L422.25,233.75 L422.28,233.00 L422.31,232.25 L422.34,231.50 L422.37,230.75 L422.40,230.00 L422.43,229.25 L422.46,228.50 L422.49,227.75 L422.52,227.00 L422.55,226.25 L422.58,225.52 L422.62,224.78 L422.65,224.05 L422.68,223.32 L422.71,222.58 L422.75,221.85 L422.78,221.12 L422.81,220.38 L422.84,219.65 L422.88,218.94 L422.92,218.22 L422.95,217.51 L422.99,216.80 L423.02,216.09 L423.06,215.38 L423.10,214.66 L423.13,213.95 L423.18,213.15 L423.22,212.35 L423.27,211.55 L423.32,210.75 L423.37,209.95 L423.41,209.15 L423.47,208.37 L423.52,207.59 L423.58,206.81 L423.63,206.03 L423.69,205.25 L423.73,204.52 L423.78,203.78 L423.82,203.05 L423.87,202.31 L423.91,201.58 L423.96,200.84 L423.99,200.14 L424.03,199.44 L424.07,198.74 L424.11,198.04 L424.14,197.33 L424.18,196.63 L424.22,195.93 L424.26,195.16 L424.29,194.38 L424.33,193.61 L424.37,192.83 L424.40,192.06 L424.44,191.29 L424.48,190.51 L424.51,189.77 L424.54,189.03 L424.57,188.29 L424.60,187.55 L424.63,186.81 L424.66,186.07 L424.69,185.33 L424.73,184.59 L424.75,183.89 L424.78,183.18 L424.81,182.48 L424.84,181.78 L424.87,181.08 L424.89,180.38 L424.92,179.68 L424.95,178.97 L424.98,178.22 L425.01,177.46 L425.04,176.70 L425.06,175.95 L425.09,175.19 L425.12,174.43 L425.15,173.67 L425.18,172.96 L425.20,172.25 L425.23,171.54 L425.25,170.82 L425.28,170.11 L425.30,169.40 L425.33,168.69 L425.35,167.91 L425.38,167.13 L425.40,166.35 L425.43,165.57 L425.45,164.79 L425.47,164.01 L425.50,163.30 L425.53,162.60 L425.55,161.89 L425.58,161.18 L425.61,160.47 L425.63,159.76 L425.66,159.00 L425.70,158.23 L425.73,157.47 L425.76,156.70 L425.79,155.94 L425.84,155.11 L425.88,154.28 L425.92,153.45 L425.96,152.62 L426.01,151.79 L426.05,151.05 L426.09,150.31 L426.14,149.56 L426.18,148.82 L426.23,148.08 L426.27,147.33 L426.31,146.59 L426.36,145.84 L426.40,145.10 L426.50,145.88 L426.60,146.65 L426.70,147.43 L426.81,148.21 L426.91,148.98 L427.00,149.74 L427.09,150.51 L427.19,151.27 L427.30,152.26 L427.41,153.26 L427.49,153.96 L427.56,154.67 L427.64,155.38 L427.71,156.12 L427.79,156.88 L427.86,157.62 L427.96,158.43 L428.05,159.22 L428.14,160.03 L428.26,160.88 L428.37,161.72 L428.48,162.57 L428.61,163.43 L428.73,164.28 L428.86,165.13 L428.99,165.99 L429.10,166.70 L429.21,167.41 L429.32,168.12 L429.44,168.84 L429.55,169.55 L429.66,170.26 L429.77,170.97 L429.89,171.69 L430.00,172.40 L430.09,171.68 L430.18,170.96 L430.27,170.24 L430.36,169.52 L430.45,168.80 L430.58,167.81 L430.71,166.82 L430.81,166.05 L430.92,165.28 L431.03,164.51 L431.14,163.75 L431.25,163.00 L431.36,162.25 L431.48,161.22 L431.59,160.19 L431.67,159.31 L431.75,158.44 L431.83,157.56 L431.89,156.77 L431.95,155.97 L432.01,155.17 L432.07,154.38 L432.12,153.62 L432.18,152.88 L432.22,152.12 L432.27,151.38 L432.32,150.62 L432.38,149.80 L432.44,148.97 L432.50,148.14 L432.56,147.31 L432.62,146.59 L432.67,145.88 L432.73,145.16 L432.79,144.44 L432.86,143.62 L432.93,142.81 L433.00,142.00 L433.10,141.00 L433.20,140.00 L433.31,139.12 L433.41,138.25 L433.52,137.50 L433.64,136.75 L433.88,135.50 L434.12,134.50 L434.43,133.66 L434.77,132.99 L435.17,132.48 L435.63,132.12 L436.19,131.91 L436.88,131.82 L437.69,131.86 L438.61,132.04 L439.62,132.21 L440.71,132.39 L441.88,132.56 L443.12,132.74 L444.38,132.91 L445.62,133.07 L446.88,133.23 L448.12,133.38 L449.38,133.52 L450.62,133.66 L451.88,133.79 L453.12,133.91 L454.21,134.04 L455.12,134.16 L456.01,134.32 L457.30,134.60 L457.92,135.67 L458.25,136.96 L458.37,137.89 L458.50,138.82 L458.58,139.67 L458.66,140.52 L458.74,141.38 L458.79,142.19 L458.85,143.00 L458.91,143.81 L458.96,144.62 L459.01,145.34 L459.05,146.05 L459.10,146.77 L459.15,147.48 L459.19,148.19 L459.24,148.91 L459.28,149.67 L459.33,150.42 L459.38,151.18 L459.42,151.94 L459.47,152.70 L459.52,153.46 L459.56,154.22 L459.60,154.92 L459.65,155.63 L459.69,156.33 L459.73,157.04 L459.77,157.74 L459.81,158.45 L459.85,159.15 L459.90,159.86 L459.94,160.56 L459.98,161.30 L460.02,162.04 L460.07,162.78 L460.11,163.51 L460.15,164.25 L460.19,164.99 L460.24,165.72 L460.28,166.46 L460.32,167.20 L460.36,167.94 L460.41,168.70 L460.45,169.46 L460.50,170.22 L460.55,170.98 L460.59,171.74 L460.64,172.50 L460.68,173.26 L460.73,174.02 L460.77,174.78 L460.82,175.48 L460.86,176.18 L460.91,176.89 L460.95,177.59 L461.00,178.29 L461.04,178.99 L461.09,179.69 L461.13,180.39 L461.18,181.09 L461.22,181.82 L461.27,182.54 L461.32,183.26 L461.37,183.98 L461.42,184.71 L461.47,185.43 L461.51,186.15 L461.56,186.88 L461.62,187.62 L461.67,188.38 L461.72,189.12 L461.78,189.88 L461.83,190.62 L461.88,191.38 L461.94,192.12 L462.00,192.92 L462.05,193.71 L462.11,194.50 L462.17,195.29 L462.23,196.08 L462.29,196.88 L462.34,197.58 L462.40,198.29 L462.45,199.00 L462.50,199.71 L462.56,200.42 L462.61,201.12 L462.67,201.89 L462.74,202.65 L462.80,203.41 L462.86,204.17 L462.92,204.93 L462.98,205.69 L463.04,206.42 L463.10,207.15 L463.17,207.88 L463.23,208.61 L463.29,209.34 L463.35,210.07 L463.41,210.81 L463.48,211.54 L463.54,212.27 L463.60,213.00 L463.66,212.27 L463.72,211.54 L463.79,210.81 L463.85,210.07 L463.91,209.34 L463.97,208.61 L464.03,207.88 L464.10,207.15 L464.16,206.42 L464.22,205.69 L464.28,204.93 L464.34,204.17 L464.40,203.41 L464.46,202.65 L464.52,201.89 L464.57,201.12 L464.62,200.42 L464.67,199.71 L464.72,199.00 L464.77,198.29 L464.82,197.58 L464.87,196.88 L464.93,196.08 L464.98,195.29 L465.03,194.50 L465.08,193.71 L465.14,192.92 L465.19,192.12 L465.23,191.38 L465.28,190.62 L465.33,189.88 L465.37,189.12 L465.42,188.38 L465.47,187.62 L465.51,186.88 L465.56,186.15 L465.61,185.43 L465.66,184.71 L465.70,183.98 L465.75,183.26 L465.80,182.54 L465.85,181.82 L465.89,181.09 L465.94,180.39 L465.99,179.69 L466.04,178.99 L466.09,178.29 L466.14,177.59 L466.19,176.89 L466.23,176.18 L466.28,175.48 L466.33,174.78 L466.39,174.02 L466.44,173.26 L466.50,172.50 L466.55,171.74 L466.61,170.98 L466.66,170.22 L466.72,169.46 L466.77,168.70 L466.83,167.94 L466.88,167.20 L466.94,166.46 L466.99,165.72 L467.05,164.99 L467.10,164.25 L467.15,163.51 L467.21,162.78 L467.26,162.04 L467.32,161.30 L467.37,160.56 L467.44,159.79 L467.50,159.03 L467.56,158.26 L467.62,157.49 L467.68,156.72 L467.75,155.95 L467.81,155.19 L467.87,154.42 L467.93,153.72 L467.99,153.02 L468.06,152.31 L468.12,151.61 L468.18,150.91 L468.24,150.21 L468.31,149.51 L468.38,148.77 L468.46,148.03 L468.53,147.30 L468.61,146.56 L468.69,145.82 L468.80,145.01 L468.90,144.19 L469.01,143.38 L469.17,142.35 L469.32,141.32 L469.46,140.49 L469.61,139.66 L469.88,138.39 L470.12,137.51 L470.39,136.77 L470.68,136.16 L471.07,135.59 L471.80,134.80 L472.81,134.57 L473.82,134.35 L475.01,134.16 L476.04,134.07 L477.12,134.04 L478.28,134.06 L479.02,134.06 L479.76,134.06 L480.68,134.05 L481.59,134.04 L482.31,134.02 L483.03,134.00 L483.75,133.99 L484.58,133.96 L485.42,133.94 L486.25,133.91 L486.95,133.89 L487.66,133.88 L488.36,133.86 L489.06,133.84 L489.84,133.82 L490.62,133.80 L491.41,133.78 L492.19,133.76 L493.05,133.74 L493.91,133.73 L494.77,133.71 L495.62,133.69 L496.38,133.67 L497.12,133.66 L497.88,133.64 L498.62,133.63 L499.38,133.61 L500.12,133.60 L500.88,133.58 L501.62,133.57 L502.38,133.55 L503.12,133.54 L503.88,133.52 L504.62,133.51 L505.38,133.49 L506.12,133.48 L506.88,133.46 L507.66,133.45 L508.44,133.43 L509.22,133.42 L510.00,133.40 L510.78,133.38 L511.56,133.37 L512.27,133.35 L512.97,133.34 L513.67,133.33 L514.38,133.31 L515.08,133.30 L515.78,133.28 L516.48,133.27 L517.19,133.26 L517.89,133.24 L518.59,133.23 L519.30,133.21 L520.00,133.20" fill="none" stroke="#0000ff" stroke-width="4.70" stroke-linejoin="bevel" stroke-linecap="butt"/>
<path d="M95.00,137.29 L95.70,137.84 L96.41,136.27 L97.11,138.48 L97.81,136.05 L98.52,138.16 L99.22,136.39 L99.92,138.59 L100.62,136.23 L101.33,138.24 L102.03,135.80 L102.73,138.36 L103.44,135.88 L104.14,138.35 L104.84,135.98 L105.55,138.15 L106.25,135.97 L106.95,138.55 L107.66,136.02 L108.36,138.47 L109.06,135.92 L109.77,138.07 L110.47,135.86 L111.17,138.36 L111.88,136.11 L112.58,138.02 L113.28,135.78 L113.98,138.27 L114.69,135.85 L115.39,138.49 L116.09,135.84 L116.80,138.50 L117.50,136.01 L118.20,138.42 L118.91,135.97 L119.61,138.48 L120.31,135.71 L121.02,137.99 L121.72,136.12 L122.42,138.05 L123.12,135.64 L123.83,138.16 L124.53,135.82 L125.23,138.07 L125.94,135.88 L126.66,138.11 L127.39,135.95 L128.11,138.21 L128.84,135.81 L129.56,138.38 L130.29,135.74 L131.01,138.38 L131.74,135.63 L132.46,138.41 L133.19,135.72 L133.91,137.92 L134.64,135.60 L135.36,138.37 L136.09,135.56 L136.81,138.13 L137.54,135.66 L138.26,137.91 L138.99,135.58 L139.71,138.10 L140.44,135.88 L141.16,137.80 L141.89,135.54 L142.61,138.32 L143.34,135.97 L144.06,138.20 L144.77,135.77 L145.48,137.81 L146.19,135.83 L146.90,138.16 L147.61,135.48 L148.32,137.73 L149.03,135.62 L149.74,137.72 L150.45,135.55 L151.16,137.87 L151.88,135.44 L152.59,138.23 L153.30,135.64 L154.01,138.23 L154.72,135.74 L155.43,137.69 L156.14,135.57 L156.85,137.65 L157.56,135.78 L158.27,137.85 L158.98,135.54 L159.69,137.69 L160.41,135.85 L161.13,138.09 L161.85,135.68 L162.57,138.13 L163.29,135.33 L164.01,137.79 L164.73,135.57 L165.45,137.86 L166.17,135.45 L166.89,137.89 L167.61,135.49 L168.33,137.89 L169.05,135.26 L169.77,137.81 L170.49,135.54 L171.21,137.92 L171.93,135.64 L172.65,137.67 L173.37,135.20 L174.09,137.78 L174.81,135.44 L175.53,137.48 L176.25,135.50 L176.95,137.79 L177.65,135.72 L178.35,137.80 L179.05,135.35 L179.75,137.47 L180.45,135.34 L181.15,137.69 L181.85,135.30 L182.55,137.61 L183.25,135.27 L183.95,137.82 L184.65,135.66 L185.35,137.42 L186.05,135.27 L186.75,137.93 L187.45,135.50 L188.15,137.63 L188.85,135.29 L189.55,137.54 L190.25,135.41 L190.95,137.52 L191.65,135.40 L192.35,137.67 L193.05,135.42 L193.75,137.53 L194.48,135.14 L195.20,137.32 L195.93,135.25 L196.66,137.71 L197.38,135.38 L198.11,137.41 L198.83,135.09 L199.56,137.40 L200.29,135.43 L201.01,137.51 L201.74,135.12 L202.47,137.30 L203.19,135.33 L203.92,137.42 L204.64,135.02 L205.37,137.47 L206.10,135.00 L206.82,137.30 L207.55,135.28 L208.28,137.57 L209.00,134.96 L209.73,137.44 L210.45,135.32 L211.18,137.24 L211.90,135.14 L212.63,137.27 L213.35,134.96 L214.07,137.63 L214.80,135.31 L215.52,137.30 L216.25,134.94 L216.97,137.49 L217.69,134.93 L218.42,137.31 L219.14,135.31 L219.86,137.27 L220.59,134.91 L221.31,137.24 L222.03,135.16 L222.76,137.32 L223.48,135.10 L224.20,137.30 L224.93,134.81 L225.65,137.14 L226.37,135.32 L227.10,137.58 L227.82,134.81 L228.54,137.60 L229.26,135.05 L229.98,137.57 L230.71,134.76 L231.43,137.14 L232.15,134.85 L232.87,137.48 L233.59,134.88 L234.31,137.28 L235.03,135.09 L235.75,137.17 L236.47,135.11 L237.19,137.00 L237.91,134.89 L238.63,137.12 L239.35,134.75 L240.07,136.97 L240.79,134.69 L241.51,137.33 L242.23,134.67 L242.96,137.43 L243.68,134.67 L244.40,137.24 L245.12,135.17 L245.84,137.32 L246.56,135.06 L247.27,137.06 L247.99,134.77 L248.71,137.17 L249.43,134.90 L250.14,137.40 L250.86,134.78 L251.58,137.05 L252.30,134.97 L253.01,137.33 L253.73,134.83 L254.45,137.28 L255.17,134.89 L255.89,136.93 L256.60,134.78 L257.32,137.28 L258.04,134.98 L258.76,137.25 L259.47,134.53 L260.19,137.25 L260.91,134.58 L261.63,136.78 L262.34,134.68 L263.06,137.26 L263.79,135.00 L264.52,136.90 L265.25,134.86 L265.98,137.03 L266.71,134.76 L267.44,136.99 L268.16,134.54 L268.89,136.70 L269.62,134.94 L270.35,136.76 L271.08,134.88 L271.81,136.71 L272.54,134.38 L273.27,137.15 L273.99,134.87 L274.72,136.93 L275.45,134.73 L276.18,136.81 L276.93,134.69 L277.68,136.97 L278.43,134.53 L279.19,136.78 L279.94,134.73 L280.69,136.74 L281.44,134.75 L282.19,136.85 L282.94,134.38 L283.69,136.73 L284.44,134.72 L285.19,136.59 L285.89,134.52 L286.60,136.79 L287.30,134.25 L288.00,136.62 L288.70,134.19 L289.40,136.72 L290.10,134.36 L290.90,136.40 L291.64,133.98 L292.33,136.16 L292.96,133.65 L293.54,135.24 L294.11,133.16 L294.67,133.92 L295.22,132.34 L295.78,132.56 L296.31,131.27 L296.82,130.76 L297.31,129.78 M330.15,113.61 L330.48,114.21 L330.82,115.14 L331.15,115.41 L331.51,116.68 L331.87,116.61 L332.23,118.06 L332.80,117.96 L333.38,120.17 L333.96,119.12 L334.54,122.04 L335.14,120.17 L335.73,123.39 L336.33,121.41 L336.94,124.44 L337.55,122.78 L338.16,125.35 L338.82,123.73 L339.48,125.98 L340.19,124.15 L340.89,126.78 L341.65,125.40 L342.40,127.66 L343.20,125.78 L344.00,128.53 L344.80,127.06 L345.59,129.67 L346.39,127.73 L347.18,130.35 L347.97,128.07 L348.76,130.97 L349.55,128.49 L350.34,131.37 L351.13,129.10 L351.92,131.55 L352.71,129.58 L353.51,132.26 L354.30,130.02 L355.10,132.41 L355.90,130.36 L356.70,133.21 L357.50,131.03 L358.30,133.10 L359.10,130.94 L359.90,133.54 L360.70,131.23 L361.50,133.23 L362.30,131.24 L363.10,133.45 L363.90,130.93 L364.69,133.30 L365.49,131.11 L366.28,133.26 L367.07,131.08 L367.86,133.23 L368.65,131.19 L369.44,133.23 L370.14,130.62 L370.85,133.11 L372.10,130.65 L373.19,132.80 L374.11,130.49 L374.89,132.93 L375.53,130.26 L376.03,132.53 L376.38,130.08 L376.72,132.39 L377.07,129.81 L377.42,132.25 L377.78,130.58 L378.11,133.00 L378.44,130.53 L378.75,133.30 L379.05,131.25 L379.59,133.84 L380.36,131.79 L381.38,133.94 L382.62,132.10 L383.96,134.43 L384.68,132.27 L385.39,134.39 L386.14,132.22 L386.90,134.97 L387.70,132.62 L388.50,135.01 L389.30,132.72 L390.10,135.25 L390.90,132.78 L391.70,135.07 L392.50,133.13 L393.30,135.06 L394.10,133.11 L394.90,135.40 L395.61,133.41 L396.33,135.50 L397.58,133.68 L398.88,135.41 L399.89,134.45 L400.90,135.13 L401.69,135.80 M434.43,133.66 L434.77,132.91 L435.17,132.68 L435.63,131.80 L436.19,132.32 L436.88,131.26 L437.69,132.70 L438.61,130.90 L439.62,133.31 L440.71,131.10 L441.88,133.98 L443.12,131.61 L444.38,133.90 L445.62,132.07 L446.88,134.50 L448.12,132.12 L449.38,134.93 L450.62,132.30 L451.88,134.79 L453.12,133.10 L454.21,134.66 L455.12,133.74 L456.01,134.65 L457.30,134.60 M470.39,136.77 L470.68,136.10 L471.07,135.77 L471.80,134.51 L472.81,135.11 L473.82,133.47 L475.01,135.00 L476.04,133.15 L477.12,135.38 L478.28,133.03 L479.02,135.13 L479.76,132.87 L480.68,135.30 L481.59,133.17 L482.31,135.08 L483.03,132.89 L483.75,135.13 L484.58,132.98 L485.42,135.14 L486.25,132.50 L486.95,134.98 L487.66,132.70 L488.36,134.79 L489.06,132.82 L489.84,135.06 L490.62,132.87 L491.41,135.15 L492.19,132.38 L493.05,134.66 L493.91,132.32 L494.77,134.78 L495.62,132.38 L496.38,134.97 L497.12,132.63 L497.88,134.89 L498.62,132.39 L499.38,134.94 L500.12,132.58 L500.88,134.88 L501.62,132.15 L502.38,134.80 L503.12,132.37 L503.88,134.45 L504.62,132.36 L505.38,134.56 L506.12,132.20 L506.88,134.72 L507.66,132.26 L508.44,134.40 L509.22,132.18 L510.00,134.63 L510.78,132.42 L511.56,134.74 L512.27,132.12 L512.97,134.27 L513.67,131.93 L514.38,134.26 L515.08,132.26 L515.78,134.36 L516.48,132.42 L517.19,133.92 L517.89,132.72 L518.59,133.54 L519.30,133.07 L520.00,133.20" fill="none" stroke="#0000ff" stroke-width="4.70" stroke-linejoin="round" stroke-linecap="butt"/>
<circle cx="421.0" cy="276.6" r="2.3" fill="#0000ff"/>
<circle cx="463.6" cy="212.0" r="2.3" fill="#0000ff"/>
<path d="M115,230.5 H145" stroke="#0000ff" stroke-width="4.6" fill="none"/>
<path d="M115,267.6 H145" stroke="#008000" stroke-width="4.6" fill="none"/>
<g font-family="'Liberation Sans', sans-serif" font-weight="bold" font-size="23.2px" fill="#000" stroke="#000" stroke-width="0.5" stroke-linejoin="round">
<text transform="translate(162.3,237.5) rotate(0.03) scale(1,0.99)">PNIPAM</text>
<text transform="translate(162.3,274.6) rotate(0.03) scale(1,0.99)">PNIPAM-SH</text>
</g>
</svg>
<table class="t"><colgroup><col style="width:99.20px"><col style="width:95.90px"><col style="width:74.50px"><col style="width:74.30px"><col style="width:74.50px"><col style="width:74.50px"></colgroup><thead><tr style="height:34.30px"><th><span class="h">Polymer</span></th><th><span class="h" style="left:0.7px">[M]:[C<span style="margin-left:1.5px">TA]:[I]</span></span></th><th><span class="mm" style="left:-2.9px"><span class="M">M</span><span class="s" style="font-size:13px">n</span></span></th><th><span class="mm" style="left:2.6px"><span class="M">M</span><span class="s" style="font-size:13px">w</span></span></th><th><span class="mm" style="left:-2.5px"><span class="M">M</span><span class="s" style="font-size:10.6px">P</span></span></th><th><span class="h" style="letter-spacing:0.45px;left:0.4px">PDI</span></th></tr></thead><tbody><tr class="r2" style="height:34.40px"><td><span>PNIPAM</span></td><td><span>800:4:1</span></td><td><span>14744</span></td><td><span>19497</span></td><td><span style="left:-1.0px">20460</span></td><td><span style="left:0.3px">1.32</span></td></tr><tr class="r3" style="height:34.05px"><td><span>PNIPAM-SH</span></td><td><span>800:4:1</span></td><td><span>14433</span></td><td><span>19671</span></td><td><span style="left:-1.0px">19645</span></td><td><span style="left:0.3px">1.36</span></td></tr></tbody></table>
<svg width="550" height="128" viewBox="0 380 550 128" style="position:absolute;left:0;top:380px;display:block" fill="none"><g stroke="#141414" stroke-width="1.45"><path d="M139.40,389.10 V491.85"/><path d="M235.30,389.10 V491.85"/><path d="M309.80,389.10 V491.85"/><path d="M384.10,389.10 V491.85"/><path d="M458.60,389.10 V491.85"/><path d="M40.20,423.40 H533.10"/><path d="M40.20,457.80 H533.10"/></g><rect x="40.20" y="389.10" width="492.90" height="102.75" stroke="#262626" stroke-width="1.8"/></svg>
</body></html>
